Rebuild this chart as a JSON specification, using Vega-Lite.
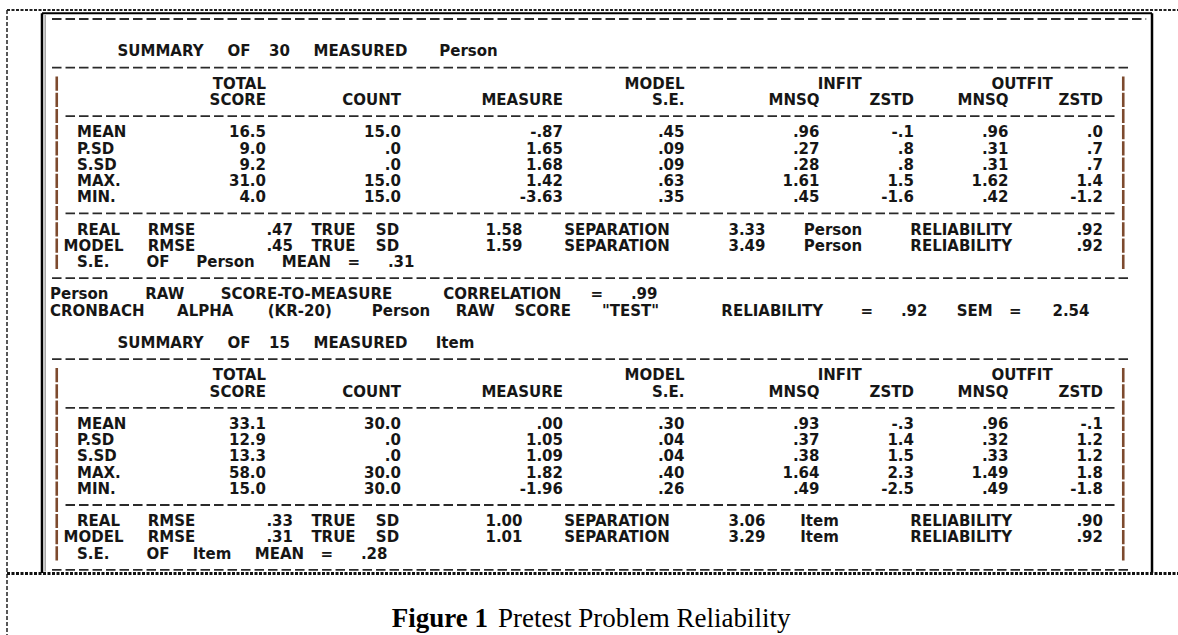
{
  "$schema": "https://vega.github.io/schema/vega-lite/v6.json",
  "width": 1178,
  "height": 635,
  "autosize": {"type": "none"},
  "padding": 0,
  "background": "white",
  "config": {"view": {"stroke": null}},
  "datasets": {
    "left": [
      {"line": 2, "col": 5, "t": "SUMMARY"},
      {"line": 7, "col": 2, "t": "MEAN"}, {"line": 8, "col": 2, "t": "P.SD"}, {"line": 9, "col": 2, "t": "S.SD"}, {"line": 10, "col": 2, "t": "MAX."}, {"line": 11, "col": 2, "t": "MIN."},
      {"line": 13, "col": 2, "t": "REAL"}, {"line": 14, "col": 1, "t": "MODEL"}, {"line": 15, "col": 2, "t": "S.E."},
      {"line": 17, "col": 0, "t": "Person"}, {"line": 18, "col": 0, "t": "CRONBACH"},
      {"line": 20, "col": 5, "t": "SUMMARY"},
      {"line": 25, "col": 2, "t": "MEAN"}, {"line": 26, "col": 2, "t": "P.SD"}, {"line": 27, "col": 2, "t": "S.SD"}, {"line": 28, "col": 2, "t": "MAX."}, {"line": 29, "col": 2, "t": "MIN."},
      {"line": 31, "col": 2, "t": "REAL"}, {"line": 32, "col": 1, "t": "MODEL"}, {"line": 33, "col": 2, "t": "S.E."}
    ],
    "mid": [
      {"line": 2, "col": 14, "t": "OF"}, {"line": 2, "col": 17, "t": "30"}, {"line": 2, "col": 23, "t": "MEASURED"}, {"line": 2, "col": 31, "t": "Person"},
      {"line": 4, "col": 58.5, "t": "INFIT"}, {"line": 4, "col": 72, "t": "OUTFIT"},
      {"line": 13, "col": 9, "t": "RMSE"}, {"line": 13, "col": 21, "t": "TRUE"}, {"line": 13, "col": 25, "t": "SD"}, {"line": 13, "col": 42, "t": "SEPARATION"}, {"line": 13, "col": 58, "t": "Person"}, {"line": 13, "col": 67.5, "t": "RELIABILITY"},
      {"line": 14, "col": 9, "t": "RMSE"}, {"line": 14, "col": 21, "t": "TRUE"}, {"line": 14, "col": 25, "t": "SD"}, {"line": 14, "col": 42, "t": "SEPARATION"}, {"line": 14, "col": 58, "t": "Person"}, {"line": 14, "col": 67.5, "t": "RELIABILITY"},
      {"line": 15, "col": 8, "t": "OF"}, {"line": 15, "col": 13, "t": "Person"}, {"line": 15, "col": 19, "t": "MEAN"}, {"line": 15, "col": 22.5, "t": "="},
      {"line": 17, "col": 8.5, "t": "RAW"}, {"line": 17, "col": 19, "t": "SCORE-TO-MEASURE"}, {"line": 17, "col": 33.5, "t": "CORRELATION"}, {"line": 17, "col": 40.5, "t": "="},
      {"line": 18, "col": 11.5, "t": "ALPHA"}, {"line": 18, "col": 18.5, "t": "(KR-20)"}, {"line": 18, "col": 26, "t": "Person"}, {"line": 18, "col": 31.5, "t": "RAW"}, {"line": 18, "col": 36.5, "t": "SCORE"}, {"line": 18, "col": 43, "t": "\"TEST\""}, {"line": 18, "col": 53.5, "t": "RELIABILITY"}, {"line": 18, "col": 60.5, "t": "="}, {"line": 18, "col": 68.5, "t": "SEM"}, {"line": 18, "col": 71.5, "t": "="},
      {"line": 20, "col": 14, "t": "OF"}, {"line": 20, "col": 17, "t": "15"}, {"line": 20, "col": 23, "t": "MEASURED"}, {"line": 20, "col": 30, "t": "Item"},
      {"line": 22, "col": 58.5, "t": "INFIT"}, {"line": 22, "col": 72, "t": "OUTFIT"},
      {"line": 31, "col": 9, "t": "RMSE"}, {"line": 31, "col": 21, "t": "TRUE"}, {"line": 31, "col": 25, "t": "SD"}, {"line": 31, "col": 42, "t": "SEPARATION"}, {"line": 31, "col": 57, "t": "Item"}, {"line": 31, "col": 67.5, "t": "RELIABILITY"},
      {"line": 32, "col": 9, "t": "RMSE"}, {"line": 32, "col": 21, "t": "TRUE"}, {"line": 32, "col": 25, "t": "SD"}, {"line": 32, "col": 42, "t": "SEPARATION"}, {"line": 32, "col": 57, "t": "Item"}, {"line": 32, "col": 67.5, "t": "RELIABILITY"},
      {"line": 33, "col": 8, "t": "OF"}, {"line": 33, "col": 12, "t": "Item"}, {"line": 33, "col": 17, "t": "MEAN"}, {"line": 33, "col": 20.5, "t": "="}
    ],
    "right": [
      {"line": 4, "col": 16, "t": "TOTAL"}, {"line": 4, "col": 47, "t": "MODEL"},
      {"line": 5, "col": 16, "t": "SCORE"}, {"line": 5, "col": 26, "t": "COUNT"}, {"line": 5, "col": 38, "t": "MEASURE"}, {"line": 5, "col": 47, "t": "S.E."}, {"line": 5, "col": 57, "t": "MNSQ"}, {"line": 5, "col": 64, "t": "ZSTD"}, {"line": 5, "col": 71, "t": "MNSQ"}, {"line": 5, "col": 78, "t": "ZSTD"},
      {"line": 7, "col": 16, "t": "16.5"}, {"line": 7, "col": 26, "t": "15.0"}, {"line": 7, "col": 38, "t": "-.87"}, {"line": 7, "col": 47, "t": ".45"}, {"line": 7, "col": 57, "t": ".96"}, {"line": 7, "col": 64, "t": "-.1"}, {"line": 7, "col": 71, "t": ".96"}, {"line": 7, "col": 78, "t": ".0"},
      {"line": 8, "col": 16, "t": "9.0"}, {"line": 8, "col": 26, "t": ".0"}, {"line": 8, "col": 38, "t": "1.65"}, {"line": 8, "col": 47, "t": ".09"}, {"line": 8, "col": 57, "t": ".27"}, {"line": 8, "col": 64, "t": ".8"}, {"line": 8, "col": 71, "t": ".31"}, {"line": 8, "col": 78, "t": ".7"},
      {"line": 9, "col": 16, "t": "9.2"}, {"line": 9, "col": 26, "t": ".0"}, {"line": 9, "col": 38, "t": "1.68"}, {"line": 9, "col": 47, "t": ".09"}, {"line": 9, "col": 57, "t": ".28"}, {"line": 9, "col": 64, "t": ".8"}, {"line": 9, "col": 71, "t": ".31"}, {"line": 9, "col": 78, "t": ".7"},
      {"line": 10, "col": 16, "t": "31.0"}, {"line": 10, "col": 26, "t": "15.0"}, {"line": 10, "col": 38, "t": "1.42"}, {"line": 10, "col": 47, "t": ".63"}, {"line": 10, "col": 57, "t": "1.61"}, {"line": 10, "col": 64, "t": "1.5"}, {"line": 10, "col": 71, "t": "1.62"}, {"line": 10, "col": 78, "t": "1.4"},
      {"line": 11, "col": 16, "t": "4.0"}, {"line": 11, "col": 26, "t": "15.0"}, {"line": 11, "col": 38, "t": "-3.63"}, {"line": 11, "col": 47, "t": ".35"}, {"line": 11, "col": 57, "t": ".45"}, {"line": 11, "col": 64, "t": "-1.6"}, {"line": 11, "col": 71, "t": ".42"}, {"line": 11, "col": 78, "t": "-1.2"},
      {"line": 13, "col": 18, "t": ".47"}, {"line": 13, "col": 35, "t": "1.58"}, {"line": 13, "col": 53, "t": "3.33"}, {"line": 13, "col": 78, "t": ".92"},
      {"line": 14, "col": 18, "t": ".45"}, {"line": 14, "col": 35, "t": "1.59"}, {"line": 14, "col": 53, "t": "3.49"}, {"line": 14, "col": 78, "t": ".92"},
      {"line": 15, "col": 27, "t": ".31"},
      {"line": 17, "col": 45, "t": ".99"},
      {"line": 18, "col": 65, "t": ".92"}, {"line": 18, "col": 77, "t": "2.54"},
      {"line": 22, "col": 16, "t": "TOTAL"}, {"line": 22, "col": 47, "t": "MODEL"},
      {"line": 23, "col": 16, "t": "SCORE"}, {"line": 23, "col": 26, "t": "COUNT"}, {"line": 23, "col": 38, "t": "MEASURE"}, {"line": 23, "col": 47, "t": "S.E."}, {"line": 23, "col": 57, "t": "MNSQ"}, {"line": 23, "col": 64, "t": "ZSTD"}, {"line": 23, "col": 71, "t": "MNSQ"}, {"line": 23, "col": 78, "t": "ZSTD"},
      {"line": 25, "col": 16, "t": "33.1"}, {"line": 25, "col": 26, "t": "30.0"}, {"line": 25, "col": 38, "t": ".00"}, {"line": 25, "col": 47, "t": ".30"}, {"line": 25, "col": 57, "t": ".93"}, {"line": 25, "col": 64, "t": "-.3"}, {"line": 25, "col": 71, "t": ".96"}, {"line": 25, "col": 78, "t": "-.1"},
      {"line": 26, "col": 16, "t": "12.9"}, {"line": 26, "col": 26, "t": ".0"}, {"line": 26, "col": 38, "t": "1.05"}, {"line": 26, "col": 47, "t": ".04"}, {"line": 26, "col": 57, "t": ".37"}, {"line": 26, "col": 64, "t": "1.4"}, {"line": 26, "col": 71, "t": ".32"}, {"line": 26, "col": 78, "t": "1.2"},
      {"line": 27, "col": 16, "t": "13.3"}, {"line": 27, "col": 26, "t": ".0"}, {"line": 27, "col": 38, "t": "1.09"}, {"line": 27, "col": 47, "t": ".04"}, {"line": 27, "col": 57, "t": ".38"}, {"line": 27, "col": 64, "t": "1.5"}, {"line": 27, "col": 71, "t": ".33"}, {"line": 27, "col": 78, "t": "1.2"},
      {"line": 28, "col": 16, "t": "58.0"}, {"line": 28, "col": 26, "t": "30.0"}, {"line": 28, "col": 38, "t": "1.82"}, {"line": 28, "col": 47, "t": ".40"}, {"line": 28, "col": 57, "t": "1.64"}, {"line": 28, "col": 64, "t": "2.3"}, {"line": 28, "col": 71, "t": "1.49"}, {"line": 28, "col": 78, "t": "1.8"},
      {"line": 29, "col": 16, "t": "15.0"}, {"line": 29, "col": 26, "t": "30.0"}, {"line": 29, "col": 38, "t": "-1.96"}, {"line": 29, "col": 47, "t": ".26"}, {"line": 29, "col": 57, "t": ".49"}, {"line": 29, "col": 64, "t": "-2.5"}, {"line": 29, "col": 71, "t": ".49"}, {"line": 29, "col": 78, "t": "-1.8"},
      {"line": 31, "col": 18, "t": ".33"}, {"line": 31, "col": 35, "t": "1.00"}, {"line": 31, "col": 53, "t": "3.06"}, {"line": 31, "col": 78, "t": ".90"},
      {"line": 32, "col": 18, "t": ".31"}, {"line": 32, "col": 35, "t": "1.01"}, {"line": 32, "col": 53, "t": "3.29"}, {"line": 32, "col": 78, "t": ".92"},
      {"line": 33, "col": 25, "t": ".28"}
    ],
    "dashes": [
      {"line": 0, "col": 0.15, "col2": 81.2},
      {"line": 3, "col": 0.15, "col2": 80},
      {"line": 6, "col": 1.15, "col2": 79},
      {"line": 12, "col": 1.15, "col2": 79},
      {"line": 16, "col": 0.15, "col2": 80},
      {"line": 21, "col": 0.15, "col2": 80},
      {"line": 24, "col": 1.15, "col2": 79},
      {"line": 30, "col": 1.15, "col2": 79},
      {"line": 34, "col": 0.15, "col2": 80}
    ],
    "bars": [
      {"col": 0.5, "line": 3.55, "line2": 15.5},
      {"col": 79.5, "line": 3.55, "line2": 15.5},
      {"col": 0.5, "line": 21.55, "line2": 33.5},
      {"col": 79.5, "line": 21.55, "line2": 33.5}
    ],
    "boxH": [
      {"line": -0.352, "col": -0.593, "col2": 81.63}
    ],
    "boxV": [
      {"col": -0.593, "line": -0.352, "line2": 34.2},
      {"col": 81.63, "line": -0.352, "line2": 34.2}
    ],
    "boxInner": [
      {"col": -0.36, "line": -0.25, "line2": 34.1}
    ],
    "dotTop": [
      {"line": -0.556, "col": -3.185, "col2": 83.56}
    ],
    "dotLeft": [
      {"col": -3.185, "line": -0.556, "line2": 38.1}
    ],
    "dotBottom": [
      {"line": 34.23, "col": -3.185, "col2": 83.56}
    ],
    "capBold": [
      {"line": 37.55, "col": 25.31, "t": "Figure 1"}
    ],
    "capRegular": [
      {"line": 37.55, "col": 33.19, "t": "Pretest Problem Reliability"}
    ]
  },
  "encoding": {
    "x": {"field": "col", "type": "quantitative", "scale": {"domain": [-3.7037, 83.5556], "nice": false, "zero": false}, "axis": null},
    "y": {"field": "line", "type": "quantitative", "scale": {"domain": [-1.17284, 38.02469], "reverse": true, "nice": false, "zero": false}, "axis": null}
  },
  "layer": [
    {"data": {"name": "dotTop"}, "mark": {"type": "rule", "stroke": "#222222", "strokeWidth": 2, "strokeDash": [3, 1.5]}, "encoding": {"x2": {"field": "col2"}}},
    {"data": {"name": "dotLeft"}, "mark": {"type": "rule", "stroke": "#222222", "strokeWidth": 1.5, "strokeDash": [4, 2]}, "encoding": {"y2": {"field": "line2"}}},
    {"data": {"name": "boxH"}, "mark": {"type": "rule", "stroke": "#000000", "strokeWidth": 2}, "encoding": {"x2": {"field": "col2"}}},
    {"data": {"name": "boxV"}, "mark": {"type": "rule", "stroke": "#000000", "strokeWidth": 2.5}, "encoding": {"y2": {"field": "line2"}}},
    {"data": {"name": "boxInner"}, "mark": {"type": "rule", "stroke": "#8a8a8a", "strokeWidth": 1.2}, "encoding": {"y2": {"field": "line2"}}},
    {"data": {"name": "dotBottom"}, "mark": {"type": "rule", "stroke": "#111111", "strokeWidth": 3, "strokeDash": [3, 1.5]}, "encoding": {"x2": {"field": "col2"}}},
    {"data": {"name": "dashes"}, "mark": {"type": "rule", "stroke": "#2a2a2a", "strokeWidth": 1.8, "strokeDash": [9.5, 4]}, "encoding": {"x2": {"field": "col2"}}},
    {"data": {"name": "bars"}, "mark": {"type": "rule", "stroke": "#7d4a2e", "strokeWidth": 2.6, "strokeDash": [14.2, 2]}, "encoding": {"y2": {"field": "line2"}}},
    {"data": {"name": "left"}, "mark": {"type": "text", "align": "left", "baseline": "middle", "font": "DejaVu Sans", "fontWeight": "bold", "fontSize": 15, "fill": "#161616"}, "encoding": {"text": {"field": "t"}}},
    {"data": {"name": "mid"}, "mark": {"type": "text", "align": "center", "baseline": "middle", "font": "DejaVu Sans", "fontWeight": "bold", "fontSize": 15, "fill": "#161616"}, "encoding": {"text": {"field": "t"}}},
    {"data": {"name": "right"}, "mark": {"type": "text", "align": "right", "baseline": "middle", "font": "DejaVu Sans", "fontWeight": "bold", "fontSize": 15, "fill": "#161616"}, "encoding": {"text": {"field": "t"}}},
    {"data": {"name": "capBold"}, "mark": {"type": "text", "align": "left", "baseline": "alphabetic", "font": "Liberation Serif", "fontWeight": "bold", "fontSize": 27, "fill": "#000000"}, "encoding": {"text": {"field": "t"}}},
    {"data": {"name": "capRegular"}, "mark": {"type": "text", "align": "left", "baseline": "alphabetic", "font": "Liberation Serif", "fontWeight": "normal", "fontSize": 27, "fill": "#000000"}, "encoding": {"text": {"field": "t"}}}
  ]
}
